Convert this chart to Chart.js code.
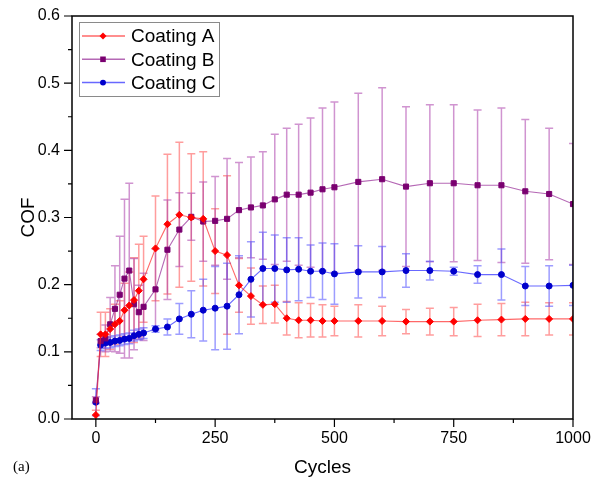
<!DOCTYPE html>
<html>
<head>
<meta charset="utf-8">
<title>COF vs cycles</title>
<script src="https://cdn.jsdelivr.net/npm/chart.js@4.4.0/dist/chart.umd.min.js"></script>
<style>
    html, body { margin: 0; padding: 0; background: #fff; }
    #wrap { width: 600px; height: 479px; }
</style>
</head>
<body>
<div id="wrap"><canvas id="cof-chart" width="600" height="479"></canvas></div>
<script>
    const cycles = [0, 10, 20, 30, 40, 50, 60, 70, 80, 90, 100, 125, 150, 175, 200, 225, 250, 275, 300,
        325, 350, 375, 400, 425, 450, 475, 500, 550, 600, 650, 700, 750, 800, 850, 900, 950, 1000];

    const coatingA = [0.006, 0.126, 0.126, 0.134, 0.141, 0.146, 0.162, 0.169, 0.177, 0.191, 0.208, 0.254, 0.290,
        0.304, 0.300, 0.298, 0.250, 0.244, 0.199, 0.183, 0.170, 0.171, 0.150, 0.147, 0.147, 0.146, 0.146,
        0.146, 0.146, 0.145, 0.145, 0.145, 0.147, 0.148, 0.149, 0.149, 0.149];
    const coatingAErr = [0.007, 0.033, 0.033, 0.030, 0.030, 0.030, 0.040, 0.050, 0.063, 0.069, 0.064, 0.078, 0.104,
        0.108, 0.095, 0.100, 0.063, 0.118, 0.040, 0.042, 0.028, 0.028, 0.025, 0.026, 0.025, 0.024, 0.022,
        0.024, 0.022, 0.018, 0.020, 0.021, 0.024, 0.024, 0.025, 0.024, 0.024];

    const coatingB = [0.028, 0.116, 0.120, 0.141, 0.164, 0.185, 0.209, 0.221, 0.171, 0.159, 0.167, 0.193, 0.252,
        0.282, 0.301, 0.294, 0.295, 0.298, 0.311, 0.315, 0.318, 0.327, 0.334, 0.334, 0.337, 0.342, 0.345,
        0.353, 0.357, 0.346, 0.351, 0.351, 0.348, 0.348, 0.339, 0.335, 0.320];
    const coatingBErr = [0.005, 0.010, 0.020, 0.040, 0.064, 0.087, 0.118, 0.130, 0.068, 0.040, 0.050, 0.060, 0.074,
        0.055, 0.035, 0.059, 0.066, 0.090, 0.071, 0.075, 0.080, 0.097, 0.099, 0.105, 0.111, 0.121, 0.127,
        0.132, 0.136, 0.119, 0.117, 0.117, 0.112, 0.115, 0.107, 0.098, 0.090];

    const coatingC = [0.025, 0.110, 0.113, 0.114, 0.116, 0.117, 0.119, 0.120, 0.124, 0.126, 0.128, 0.134, 0.137,
        0.149, 0.156, 0.162, 0.165, 0.168, 0.185, 0.208, 0.224, 0.224, 0.222, 0.223, 0.220, 0.220, 0.216,
        0.219, 0.219, 0.221, 0.221, 0.220, 0.215, 0.215, 0.198, 0.198, 0.199];
    const coatingCErr = [0.020, 0.008, 0.008, 0.008, 0.008, 0.008, 0.008, 0.008, 0.008, 0.008, 0.008, 0.005, 0.012,
        0.023, 0.035, 0.046, 0.062, 0.064, 0.058, 0.056, 0.054, 0.050, 0.048, 0.047, 0.039, 0.042, 0.045,
        0.039, 0.038, 0.025, 0.014, 0.006, 0.013, 0.038, 0.029, 0.030, 0.030];

    const xTickValues = [0, 125, 250, 375, 500, 625, 750, 875, 1000];
    const yTickValues = [0, 0.05, 0.1, 0.15, 0.2, 0.25, 0.3, 0.35, 0.4, 0.45, 0.5, 0.55, 0.6];

    const sans = '"Liberation Sans", Arial, sans-serif';

    function toPoints(values) {
        return values.map((v, i) => ({ x: cycles[i], y: v }));
    }

    function isMajorY(v) {
        return Math.abs(v * 10 - Math.round(v * 10)) < 1e-6;
    }

    // vertical error bars with caps, drawn under the lines
    const errorBars = {
        id: 'errorBars',
        beforeDatasetsDraw(chart) {
            const { ctx, chartArea: a, scales: { x, y } } = chart;
            ctx.save();
            ctx.beginPath();
            ctx.rect(a.left, a.top, a.right - a.left, a.bottom - a.top);
            ctx.clip();
            chart.data.datasets.forEach((ds) => {
                ctx.strokeStyle = ds.errorColor;
                ctx.lineWidth = 1.5;
                ctx.beginPath();
                ds.data.forEach((pt, j) => {
                    const e = ds.errors[j];
                    const px = x.getPixelForValue(pt.x);
                    const top = y.getPixelForValue(pt.y + e);
                    const bot = y.getPixelForValue(pt.y - e);
                    ctx.moveTo(px, top);
                    ctx.lineTo(px, bot);
                    ctx.moveTo(px - 4, top);
                    ctx.lineTo(px + 4, top);
                    ctx.moveTo(px - 4, bot);
                    ctx.lineTo(px + 4, bot);
                });
                ctx.stroke();
            });
            ctx.restore();
        }
    };

    // closed frame with outward ticks (long major, short minor)
    const frameAndTicks = {
        id: 'frameAndTicks',
        afterDraw(chart) {
            const { ctx, chartArea: a, scales: { x, y } } = chart;
            ctx.save();
            ctx.strokeStyle = '#000';
            ctx.lineWidth = 1.5;
            ctx.strokeRect(a.left, a.top, a.right - a.left, a.bottom - a.top);
            ctx.lineWidth = 1.2;
            ctx.beginPath();
            x.ticks.forEach((t) => {
                const px = x.getPixelForValue(t.value);
                const len = t.value % 250 === 0 ? 8 : 4;
                ctx.moveTo(px, a.bottom);
                ctx.lineTo(px, a.bottom + len);
            });
            y.ticks.forEach((t) => {
                const py = y.getPixelForValue(t.value);
                const len = isMajorY(t.value) ? 8 : 4;
                ctx.moveTo(a.left, py);
                ctx.lineTo(a.left - len, py);
            });
            ctx.stroke();

            ctx.fillStyle = '#000';
            ctx.font = '15px "Liberation Serif", "Times New Roman", serif';
            ctx.textBaseline = 'middle';
            ctx.textAlign = 'left';
            ctx.fillText('(a)', 13, 467);
            ctx.restore();
        }
    };

    function drawMarker(ctx, style, cx, cy, r, color) {
        ctx.fillStyle = color;
        ctx.beginPath();
        if (style === 'rectRot') {
            ctx.moveTo(cx, cy - r);
            ctx.lineTo(cx + r, cy);
            ctx.lineTo(cx, cy + r);
            ctx.lineTo(cx - r, cy);
            ctx.closePath();
        } else if (style === 'rect') {
            ctx.rect(cx - r * 0.8, cy - r * 0.8, r * 1.6, r * 1.6);
        } else {
            ctx.arc(cx, cy, r * 0.85, 0, Math.PI * 2);
        }
        ctx.fill();
    }

    // framed legend in the upper left corner of the plot
    const boxLegend = {
        id: 'boxLegend',
        afterDraw(chart) {
            const { ctx, chartArea: a } = chart;
            const bx = a.left + 7, by = a.top + 6;
            ctx.save();
            ctx.fillStyle = '#fff';
            ctx.fillRect(bx, by, 140, 74);
            ctx.strokeStyle = '#8a8a8a';
            ctx.lineWidth = 1;
            ctx.strokeRect(bx + 0.5, by + 0.5, 140, 74);
            ctx.font = '19px ' + sans;
            ctx.textBaseline = 'middle';
            chart.data.datasets.forEach((ds, i) => {
                const cy = by + 14 + i * 23.3;
                ctx.strokeStyle = ds.borderColor;
                ctx.lineWidth = 1.5;
                ctx.beginPath();
                ctx.moveTo(bx + 3, cy);
                ctx.lineTo(bx + 46, cy);
                ctx.stroke();
                drawMarker(ctx, ds.pointStyle, bx + 24, cy, 3.5, ds.pointBackgroundColor);
                ctx.fillStyle = '#000';
                ctx.fillText(ds.label, bx + 52, cy + 1);
            });
            ctx.restore();
        }
    };

    document.addEventListener('DOMContentLoaded', () => {
        const ctx = document.getElementById('cof-chart');

        const dataSets = [
            {
                label: 'Coating A',
                data: toPoints(coatingA),
                errors: coatingAErr,
                errorColor: 'rgba(255, 60, 60, 0.5)',
                borderColor: 'rgba(255, 40, 40, 0.7)',
                pointStyle: 'rectRot',
                pointRadius: 3.5,
                pointBackgroundColor: '#ff0000',
                pointBorderColor: '#ff0000'
            },
            {
                label: 'Coating B',
                data: toPoints(coatingB),
                errors: coatingBErr,
                errorColor: 'rgba(170, 60, 170, 0.55)',
                borderColor: 'rgba(150, 40, 150, 0.7)',
                pointStyle: 'rect',
                pointRadius: 3.6,
                pointBackgroundColor: '#7a0070',
                pointBorderColor: '#7a0070'
            },
            {
                label: 'Coating C',
                data: toPoints(coatingC),
                errors: coatingCErr,
                errorColor: 'rgba(60, 60, 255, 0.5)',
                borderColor: 'rgba(40, 40, 255, 0.7)',
                pointStyle: 'circle',
                pointRadius: 3,
                pointBackgroundColor: '#0000cc',
                pointBorderColor: '#0000cc'
            }
        ];

        new Chart(ctx, {
            type: 'line',
            data: { datasets: dataSets },
            options: {
                responsive: false,
                animation: false,
                devicePixelRatio: 1,
                layout: { padding: { top: 16, right: 27, bottom: 0, left: 10 } },
                elements: {
                    line: { borderWidth: 1.1, tension: 0 },
                    point: { borderWidth: 1 }
                },
                plugins: {
                    legend: { display: false },
                    tooltip: { enabled: false }
                },
                scales: {
                    x: {
                        type: 'linear',
                        min: -50,
                        max: 1000,
                        afterBuildTicks: (s) => { s.ticks = xTickValues.map((v) => ({ value: v })); },
                        afterFit: (s) => { s.height = 60; },
                        ticks: {
                            autoSkip: false,
                            maxRotation: 0,
                            padding: 2,
                            color: '#000',
                            font: { size: 16, family: sans },
                            callback: (v) => (v % 250 === 0 ? String(v) : '')
                        },
                        grid: { drawOnChartArea: false, tickLength: 8, tickColor: 'rgba(0,0,0,0)' },
                        border: { display: false },
                        title: {
                            display: true,
                            text: 'Cycles',
                            color: '#000',
                            font: { size: 19, family: sans },
                            padding: { top: 0, bottom: 0 }
                        }
                    },
                    y: {
                        min: 0,
                        max: 0.6,
                        afterBuildTicks: (s) => { s.ticks = yTickValues.map((v) => ({ value: v })); },
                        afterFit: (s) => { s.width = 62; },
                        ticks: {
                            autoSkip: false,
                            padding: 4,
                            color: '#000',
                            font: { size: 16, family: sans },
                            callback: (v) => (isMajorY(v) ? v.toFixed(1) : '')
                        },
                        grid: { drawOnChartArea: false, tickLength: 8, tickColor: 'rgba(0,0,0,0)' },
                        border: { display: false },
                        title: {
                            display: true,
                            text: 'COF',
                            color: '#000',
                            font: { size: 19, family: sans },
                            padding: { top: 7, bottom: 0 }
                        }
                    }
                }
            },
            plugins: [errorBars, frameAndTicks, boxLegend]
        });
    });
</script>
</body>
</html>
